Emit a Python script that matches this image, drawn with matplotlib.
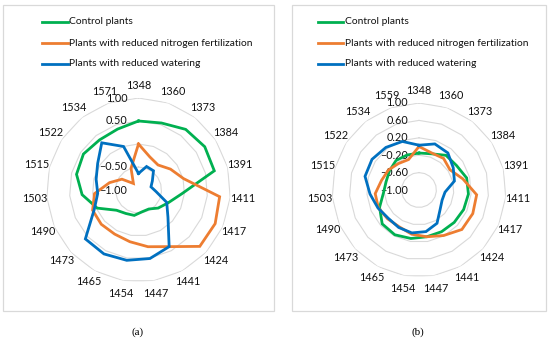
import numpy as np
import matplotlib
matplotlib.use("Agg")
import matplotlib.pyplot as plt
from matplotlib.lines import Line2D
from matplotlib.patches import Rectangle
import matplotlib.transforms as mtransforms

plt.rcParams['font.family'] = ['Lato', 'DejaVu Sans']

# ---------------- data ----------------
cats_a = ["1348", "1360", "1373", "1384", "1391", "1411", "1417", "1424", "1441", "1447",
          "1454", "1465", "1473", "1490", "1503", "1515", "1522", "1534", "1571"]
cats_b = ["1348", "1360", "1373", "1384", "1391", "1411", "1417", "1424", "1441", "1447",
          "1454", "1465", "1473", "1490", "1503", "1515", "1522", "1534", "1559"]

series_names = ["Control plants",
                "Plants with reduced nitrogen fertilization",
                "Plants with reduced watering"]

control_a = [0.50, 0.54, 0.67, 0.72, 0.70, -0.05, -0.30, -0.42, -0.53, -0.52,
             -0.44, -0.42, -0.35, -0.02, 0.23, 0.39, 0.43, 0.38, 0.40]
nitrogen_a = [0.00, -0.24, -0.31, -0.17, 0.01, 0.77, 0.82, 0.81, 0.40, 0.25,
              0.14, 0.09, 0.10, 0.09, -0.04, -0.35, -0.57, -0.82, -0.50]
water_a = [-0.64, -0.46, -0.47, -0.64, -0.72, -0.62, -0.33, -0.13, 0.40, 0.51,
           0.55, 0.58, 0.57, 0.05, -0.11, -0.05, 0.06, 0.30, 0.00]

control_b = [-0.15, -0.12, 0.01, 0.03, 0.13, 0.14, 0.12, 0.10, 0.09, 0.09,
             0.13, 0.17, 0.15, -0.01, -0.18, -0.22, -0.19, -0.14, -0.15]
nitrogen_b = [0.00, -0.10, -0.08, -0.15, 0.04, 0.33, 0.35, 0.34, 0.19, 0.09,
              0.03, -0.04, -0.02, 0.02, 0.01, -0.11, -0.16, -0.23, -0.26]
water_b = [0.03, 0.12, 0.08, -0.06, -0.16, -0.40, -0.42, -0.34, -0.13, -0.03,
           0.00, -0.02, -0.04, 0.03, 0.13, 0.28, 0.29, 0.24, 0.18]

rings_a = [-0.5, 0.0, 0.5, 1.0]
ring_labels_a = ["1.00", "0.50", "", "\u22120.50", "\u22121.00"]
ring_label_vals_a = [1.0, 0.5, 0.0, -0.5, -1.0]

rings_b = [-0.6, -0.2, 0.2, 0.6, 1.0]
ring_labels_b = ["1.00", "0.60", "0.20", "\u22120.20", "\u22120.60", "\u22121.00"]
ring_label_vals_b = [1.0, 0.6, 0.2, -0.2, -0.6, -1.0]

colors = ['#00B050', '#ED7D31', '#0070C0']

W, H = 550, 340
fig = plt.figure(figsize=(W / 100, H / 100), dpi=100)

def px(x, y):
    return x / W, 1 - y / H

grid_color = '#d9d9d9'
txt_color = '#111111'
fs = 7.8

def radar(cx, cy, R, cats, data, rings, rlabels, rvals):
    ax = fig.add_axes([(cx - R) / W, 1 - (cy + R) / H, 2 * R / W, 2 * R / H],
                      projection='polar')
    ax.set_theta_zero_location('N')
    ax.set_theta_direction(-1)
    ax.set_ylim(-1, 1)
    n = len(cats)
    theta = np.arange(n) * 2 * np.pi / n
    tc = np.append(theta, theta[0])
    ax.grid(False)
    ax.spines['polar'].set_visible(False)
    ax.set_yticks([])
    ax.set_xticks(theta)
    ax.set_xticklabels(cats, fontsize=fs, color=txt_color)
    ax.tick_params(axis='x', pad=-1.5)
    ax.patch.set_alpha(0)
    for v in rings:
        ax.plot(tc, [v] * (n + 1), color=grid_color, lw=0.8, zorder=0)
    for vals, c in zip(data, colors):
        vv = np.append(vals, vals[0])
        ax.plot(tc, vv, color=c, lw=2.0, zorder=3, solid_joinstyle='miter')
    off = mtransforms.ScaledTranslation(-11 / 100, 0, fig.dpi_scale_trans)
    for lab, v in zip(rlabels, rvals):
        if lab:
            ax.text(0, v, lab, transform=ax.transData + off, ha='right', va='center',
                    fontsize=fs, color=txt_color, zorder=2)
    return ax

radar(138.5, 190, 92, cats_a, [control_a, nitrogen_a, water_a], rings_a,
      ring_labels_a, ring_label_vals_a)
radar(419, 190, 87, cats_b, [control_b, nitrogen_b, water_b], rings_b,
      ring_labels_b, ring_label_vals_b)

# frames
for x0, x1 in [(3, 274), (292, 546)]:
    x, y = px(x0, 311)
    w = (x1 - x0) / W
    h = (311 - 4.5) / H
    fig.add_artist(Rectangle((x, y), w, h, transform=fig.transFigure, fill=False,
                             edgecolor=grid_color, lw=0.9))

# legends
for lx0, lx1, tx in [(42, 68, 69), (318, 343, 345)]:
    for i, (name, c) in enumerate(zip(series_names, colors)):
        yy = [22, 43, 64][i]
        a, b = px(lx0, yy)
        a2, _ = px(lx1, yy)
        fig.add_artist(Line2D([a, a2], [b, b], transform=fig.transFigure, color=c, lw=2.0))
        t, tb = px(tx, yy)
        fig.text(t, tb, name, ha='left', va='center', fontsize=7.4, color=txt_color)

# captions
for cx, lab in [(138, "(a)"), (418, "(b)")]:
    a, b = px(cx, 332)
    fig.text(a, b, lab, ha='center', va='center', fontsize=8,
             family=['Liberation Serif', 'DejaVu Serif'])

fig.savefig("out.png", dpi=100)
